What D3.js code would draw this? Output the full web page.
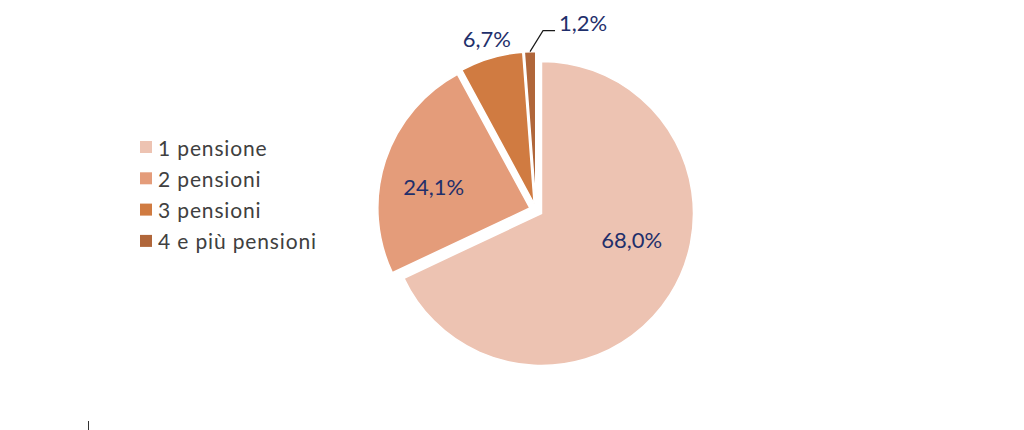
<!DOCTYPE html>
<html>
<head>
<meta charset="utf-8">
<script src="https://cdn.jsdelivr.net/npm/d3@7"></script>
<style>
  body { margin: 0; background: #fff; }
  svg { display: block; }
</style>
</head>
<body>
<div id="chart"></div>
<script>
const categories = ["1 pensione", "2 pensioni", "3 pensioni", "4 e più pensioni"];
const values = [68.0, 24.1, 6.7, 1.2];
const valueLabels = ["68,0%", "24,1%", "6,7%", "1,2%"];
const colors = ["#edc3b2", "#e49c7a", "#d07b41", "#b0663a"];

(function pie_chart() {
  const width = 1024,
    height = 430;

  const cx = 536, cy = 210, radius = 152, explode = 6.5;

  const svg = d3.select("#chart")
    .append("svg")
    .attr("width", width)
    .attr("height", height)
    .attr("viewBox", [0, 0, width, height]);

  const data = categories.map((c, i) => ({ name: c, value: values[i], label: valueLabels[i], color: colors[i] }));

  const pie = d3.pie()
    .sort(null)
    .value(d => d.value)
    .startAngle(0)
    .endAngle(2 * Math.PI);

  const arcs = pie(data);
  const arc = d3.arc().innerRadius(0).outerRadius(radius);

  // unit vector along the middle of a slice (0 = up, clockwise)
  const dir = d => {
    const a = (d.startAngle + d.endAngle) / 2;
    return [Math.sin(a), -Math.cos(a)];
  };

  const g = svg.append("g").attr("transform", `translate(${cx},${cy})`);

  g.selectAll("path")
    .data(arcs)
    .join("path")
    .attr("transform", d => {
      const [dx, dy] = dir(d);
      return `translate(${dx * explode},${dy * explode})`;
    })
    .attr("d", arc)
    .attr("fill", d => d.data.color)
    .attr("stroke", "#fff")
    .attr("stroke-width", 1.5);

  // label placement: distance from centre and angle in degrees
  const labelPolar = [[100, 107], [105, 283], [178, 344], null];

  const labelColor = "#1f2f6b";
  arcs.forEach((d, i) => {
    const p = labelPolar[i];
    if (!p) return;
    const a = p[1] * Math.PI / 180;
    g.append("text")
      .attr("x", Math.sin(a) * p[0])
      .attr("y", -Math.cos(a) * p[0])
      .attr("text-anchor", "middle")
      .attr("dominant-baseline", "central")
      .attr("font-family", "Lato, sans-serif")
      .attr("font-size", 22)
      .attr("fill", labelColor)
      .text(d.data.label);
  });

  // small slice: label with leader line
  const small = arcs[3];
  const [sdx, sdy] = dir(small);
  const edge = [sdx * (radius + explode), sdy * (radius + explode)];
  const elbow = [edge[0] + 13, edge[1] - 21];
  const end = [elbow[0] + 12, elbow[1]];
  g.append("polyline")
    .attr("points", [edge, elbow, end].map(p => p.join(",")).join(" "))
    .attr("fill", "none")
    .attr("stroke", "#1a1a1a")
    .attr("stroke-width", 1.2);
  g.append("text")
    .attr("x", end[0] + 4)
    .attr("y", end[1] - 8)
    .attr("dominant-baseline", "central")
    .attr("font-family", "Lato, sans-serif")
    .attr("font-size", 22)
    .attr("fill", labelColor)
    .text(small.data.label);

  // legend
  const legend = svg.append("g").attr("transform", "translate(140,147)");
  const rowH = 31.3;
  const item = legend.selectAll("g")
    .data(data)
    .join("g")
    .attr("transform", (d, i) => `translate(0,${i * rowH})`);
  item.append("rect")
    .attr("x", 0)
    .attr("y", -6)
    .attr("width", 12)
    .attr("height", 12)
    .attr("fill", d => d.color);
  item.append("text")
    .attr("x", 18)
    .attr("y", 0)
    .attr("dominant-baseline", "central")
    .attr("font-family", "Lato, sans-serif")
    .attr("font-size", 21)
    .attr("letter-spacing", 0.85)
    .attr("fill", "#404040")
    .text(d => d.name);

  // stray tick at bottom left
  svg.append("line")
    .attr("x1", 88.5).attr("x2", 88.5)
    .attr("y1", 421).attr("y2", 430)
    .attr("stroke", "#333")
    .attr("stroke-width", 1);
})();
</script>
</body>
</html>
